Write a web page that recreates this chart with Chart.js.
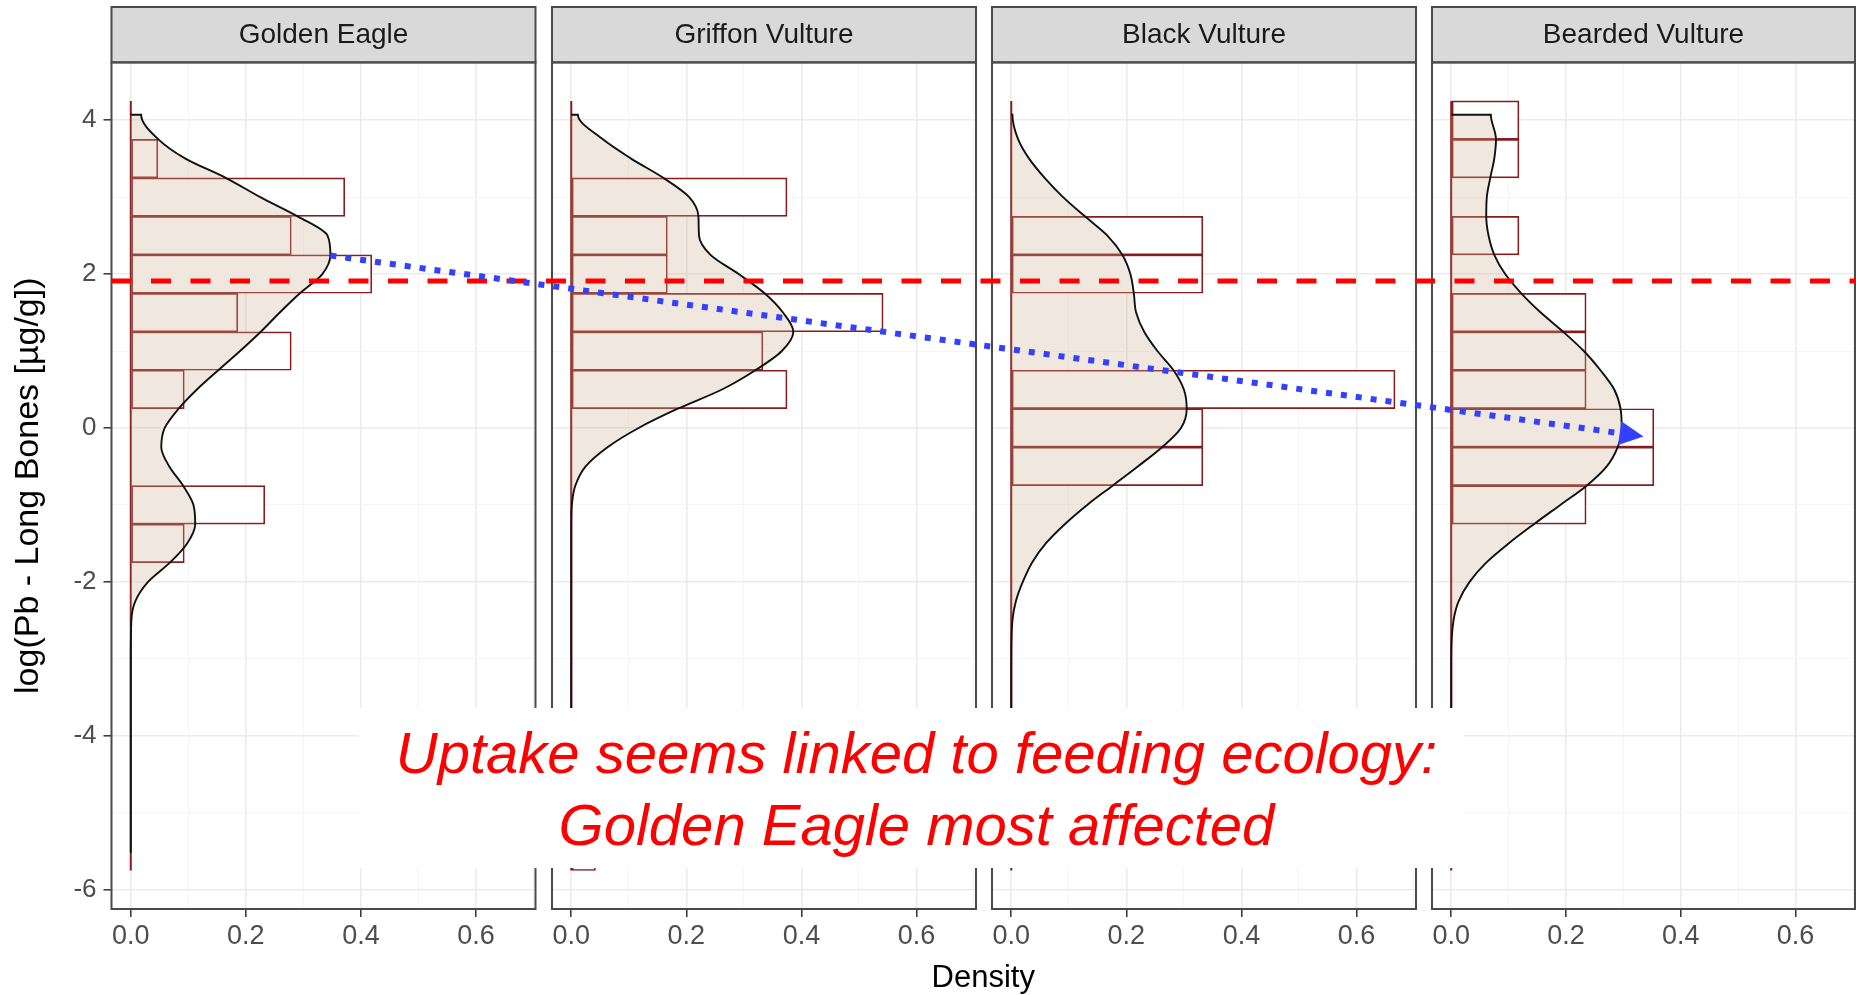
<!DOCTYPE html>
<html>
<head>
<meta charset="utf-8">
<title>Pb in long bones by species</title>
<script src="https://cdn.jsdelivr.net/npm/chart.js@4"></script>
<style>
  html, body { margin: 0; padding: 0; background: #fff; }
  #wrap { position: relative; width: 1856px; height: 995px; overflow: hidden; }
  #wrap canvas { position: absolute; left: 0; top: 0; }
  #note {
    position: absolute; left: 359px; top: 708px; width: 1105px; height: 160px;
    box-sizing: border-box; padding: 9px 0 0 10px; background: #fff;
    text-align: center; color: #ff0000; z-index: 5;
    font: italic 58px/72px 'Liberation Sans', Arial, sans-serif;
  }
</style>
</head>
<body>
<div id="wrap">
  <canvas id="p0" width="1856" height="995"></canvas>
  <canvas id="p1" width="1856" height="995"></canvas>
  <canvas id="p2" width="1856" height="995"></canvas>
  <canvas id="p3" width="1856" height="995"></canvas>
  <canvas id="overlay" width="1856" height="995"></canvas>
  <div id="note"></div>
</div>
<script>
// facets
const species = ['Golden Eagle', 'Griffon Vulture', 'Black Vulture', 'Bearded Vulture'];

// histogram bins (binwidth 0.5), centre of each bin
const binCenters = [4, 3.5, 3, 2.5, 2, 1.5, 1, 0.5, 0, -0.5, -1, -1.5, -2, -2.5, -3, -3.5, -4, -4.5, -5, -5.5];
const histGoldenEagle = [0, 0.047, 0.372, 0.279, 0.419, 0.186, 0.279, 0.093, 0, 0, 0.233, 0.093, 0, 0, 0, 0, 0, 0, 0, 0];
const histGriffon     = [0, 0, 0.375, 0.167, 0.167, 0.542, 0.333, 0.375, 0, 0, 0, 0, 0, 0, 0, 0, 0, 0, 0, 0.042];
const histBlack       = [0, 0, 0, 0.333, 0.333, 0, 0, 0.667, 0.333, 0.333, 0, 0, 0, 0, 0, 0, 0, 0, 0, 0];
const histBearded     = [0.118, 0.118, 0, 0.118, 0, 0.235, 0.235, 0.235, 0.353, 0.353, 0.235, 0, 0, 0, 0, 0, 0, 0, 0, 0];

// density curves, read at these log(Pb) values
const densityY = [4.07, 4.07, 3.75, 3.5, 3.25, 3, 2.75, 2.5, 2.25, 2, 1.75, 1.5, 1.25, 1, 0.75, 0.5, 0.25, 0,
                  -0.25, -0.5, -0.75, -1, -1.25, -1.5, -1.75, -2, -2.25, -2.5, -3, -4, -5, -5.52];
const densGoldenEagle = [0, 0.018, 0.048, 0.095, 0.165, 0.225, 0.29, 0.342, 0.347, 0.333, 0.294, 0.259, 0.226, 0.19, 0.152, 0.115, 0.083, 0.059,
                         0.053, 0.067, 0.091, 0.109, 0.112, 0.098, 0.068, 0.03, 0.008, 0.001, 0, 0, 0, 0];
const densGriffon     = [0, 0.0115, 0.055, 0.104, 0.16, 0.205, 0.221, 0.222, 0.242, 0.291, 0.336, 0.368, 0.386, 0.366, 0.32, 0.262, 0.185, 0.117,
                         0.063, 0.025, 0.007, 0.001, 0, 0, 0, 0, 0, 0, 0, 0, 0.003, 0.02];
const densBlack       = [0, 0.002, 0.012, 0.031, 0.058, 0.09, 0.128, 0.167, 0.193, 0.207, 0.213, 0.217, 0.231, 0.254, 0.282, 0.3, 0.305, 0.295,
                         0.262, 0.22, 0.176, 0.132, 0.093, 0.06, 0.036, 0.02, 0.008, 0.002, 0, 0, 0, 0];
const densBearded     = [0, 0.069, 0.078, 0.075, 0.068, 0.062, 0.061, 0.065, 0.075, 0.094, 0.122, 0.156, 0.195, 0.231, 0.26, 0.284, 0.295, 0.297,
                         0.29, 0.271, 0.236, 0.19, 0.144, 0.1, 0.061, 0.032, 0.013, 0.004, 0, 0, 0, 0];

const histograms = [histGoldenEagle, histGriffon, histBlack, histBearded];
const densities = [densGoldenEagle, densGriffon, densBlack, densBearded];

// axis ticks (majors get labels, the rest are minor grid lines)
const xTicks = [0, 0.1, 0.2, 0.3, 0.4, 0.5, 0.6, 0.7];
const xLabels = ['0.0', '', '0.2', '', '0.4', '', '0.6', ''];
const yTicks = [-6, -5, -4, -3, -2, -1, 0, 1, 2, 3, 4];
const yLabels = ['-6', '', '-4', '', '-2', '', '0', '', '2', '', '4'];

// reference line and arrow (data units)
const threshold = 1.91;
const arrowFrom = { panel: 0, x: 0.347, y: 2.24 };
const arrowTo = { panel: 3, x: 0.335, y: -0.11 };

const yTitle = 'log(Pb - Long Bones [µg/g])';
const xTitle = 'Density';
const noteLines = ['Uptake seems linked to feeding ecology:', 'Golden Eagle most affected'];

// layout
const W = 1856;
const panelLefts = [111.5, 552, 992, 1432];
const panelWidth = 424;
const plotTop = 62.4;
const xAxisHeight = 86;
const FONT = "'Liberation Sans', Arial, sans-serif";
Chart.defaults.font.family = FONT;

const barEdge = '#861C1C';
const binTop = Math.max(...binCenters) + 0.25;
const binBottom = Math.min(...binCenters) - 0.25;

const xMajor = v => xLabels[xTicks.findIndex(t => Math.abs(t - v) < 1e-9)] !== '';
const yMajor = v => yLabels[yTicks.indexOf(v)] !== '';

// grey strip with facet name + panel frame
const stripPlugin = {
  id: 'strip',
  afterDraw(chart, args, opts) {
    const { ctx, chartArea: a } = chart;
    const right = Math.min(a.right, W - 1);
    ctx.save();
    ctx.fillStyle = '#D9D9D9';
    ctx.fillRect(a.left, opts.top, right - a.left, a.top - opts.top);
    ctx.strokeStyle = '#4A4A4A';
    ctx.lineWidth = 2;
    ctx.strokeRect(a.left, opts.top, right - a.left, a.top - opts.top);
    ctx.strokeRect(a.left, a.top, right - a.left, a.bottom - a.top);
    ctx.fillStyle = '#1A1A1A';
    ctx.font = '28px ' + FONT;
    ctx.textAlign = 'center';
    ctx.textBaseline = 'middle';
    ctx.fillText(opts.label, (a.left + a.right) / 2, (opts.top + a.top) / 2 + 1);
    ctx.restore();
  }
};

function makePanel(i) {
  const first = i === 0;
  const hist = histograms[i];
  const dens = densities[i];
  return new Chart(document.getElementById('p' + i), {
    type: 'bar',
    data: {
      datasets: [
        {
          type: 'line',
          label: 'density',
          data: densityY.map((y, k) => ({ x: dens[k], y: y })),
          indexAxis: 'y',
          borderColor: '#111111',
          borderWidth: 1.9,
          backgroundColor: 'rgba(205,175,145,0.3)',
          fill: 'origin',
          pointRadius: 0,
          cubicInterpolationMode: 'monotone',
          order: 0
        },
        {
          type: 'line',
          label: 'empty bins',
          data: [{ x: 0, y: binTop }, { x: 0, y: binBottom }],
          indexAxis: 'y',
          borderColor: barEdge,
          borderWidth: 2,
          pointRadius: 0,
          fill: false,
          order: 1
        },
        {
          type: 'bar',
          label: 'histogram',
          data: binCenters.map((c, k) => ({ x: hist[k], y: c })),
          backgroundColor: '#FFFFFF',
          borderColor: barEdge,
          borderWidth: 1.7,
          borderSkipped: false,
          barPercentage: 1,
          categoryPercentage: 1,
          order: 2
        }
      ]
    },
    options: {
      indexAxis: 'y',
      responsive: false,
      animation: false,
      devicePixelRatio: 1,
      events: [],
      layout: {
        padding: {
          left: first ? 0 : panelLefts[i],
          right: W - panelLefts[i] - panelWidth,
          top: plotTop,
          bottom: 0
        }
      },
      plugins: {
        legend: { display: false },
        tooltip: { enabled: false },
        strip: { label: species[i], top: 7 }
      },
      scales: {
        x: {
          type: 'linear',
          min: -0.0335,
          max: 0.7035,
          afterBuildTicks: s => { s.ticks = xTicks.map(v => ({ value: v })); },
          afterFit: s => { s.height = xAxisHeight; },
          border: { display: false },
          grid: {
            color: c => xMajor(c.tick.value) ? '#EBEBEB' : '#F4F4F4',
            lineWidth: c => xMajor(c.tick.value) ? 1.6 : 0.9,
            tickLength: 8,
            tickWidth: 1.5,
            tickColor: c => xMajor(c.tick.value) ? '#333333' : 'rgba(0,0,0,0)'
          },
          ticks: {
            autoSkip: false,
            maxRotation: 0,
            color: '#4D4D4D',
            font: { size: 27 },
            padding: 3,
            callback: (v, k) => xLabels[k]
          }
        },
        y: {
          type: 'linear',
          min: -6.25,
          max: 4.75,
          offset: false,
          afterBuildTicks: s => { s.ticks = yTicks.map(v => ({ value: v })); },
          afterFit: s => { s.width = first ? panelLefts[0] : 0; },
          border: { display: false },
          title: {
            display: first,
            text: yTitle,
            color: '#000000',
            font: { size: 34 },
            padding: { top: 8, bottom: 0 }
          },
          grid: {
            offset: false,
            drawTicks: first,
            color: c => yMajor(c.tick.value) ? '#EBEBEB' : '#F4F4F4',
            lineWidth: c => yMajor(c.tick.value) ? 1.6 : 0.9,
            tickLength: 8,
            tickWidth: 1.5,
            tickColor: c => yMajor(c.tick.value) ? '#333333' : 'rgba(0,0,0,0)'
          },
          ticks: {
            display: first,
            autoSkip: false,
            color: '#4D4D4D',
            font: { size: 26 },
            padding: 7,
            callback: (v, k) => yLabels[k]
          }
        }
      }
    },
    plugins: [stripPlugin]
  });
}

const charts = species.map((s, i) => makePanel(i));

// overlay: threshold line, arrow, axis title
const ov = document.getElementById('overlay').getContext('2d');
const c0 = charts[0];
const cLast = charts[charts.length - 1];

const yT = c0.scales.y.getPixelForValue(threshold);
ov.save();
ov.strokeStyle = '#FF0000';
ov.lineWidth = 5;
ov.setLineDash([20, 19.5]);
ov.beginPath();
ov.moveTo(c0.chartArea.left, yT);
ov.lineTo(cLast.chartArea.right, yT);
ov.stroke();
ov.restore();

function pix(p) {
  const c = charts[p.panel];
  return { x: c.scales.x.getPixelForValue(p.x), y: c.scales.y.getPixelForValue(p.y) };
}
const a0 = pix(arrowFrom), a1 = pix(arrowTo);
const ang = Math.atan2(a1.y - a0.y, a1.x - a0.x);
const headLen = 24, headHalf = 12;
const bx = a1.x - headLen * Math.cos(ang), by = a1.y - headLen * Math.sin(ang);
ov.save();
ov.strokeStyle = '#3340FF';
ov.fillStyle = '#3340FF';
ov.lineWidth = 6;
ov.setLineDash([6, 9]);
ov.beginPath();
ov.moveTo(a0.x, a0.y);
ov.lineTo(bx, by);
ov.stroke();
ov.setLineDash([]);
ov.beginPath();
ov.moveTo(a1.x, a1.y);
ov.lineTo(bx - headHalf * Math.sin(ang), by + headHalf * Math.cos(ang));
ov.lineTo(bx + headHalf * Math.sin(ang), by - headHalf * Math.cos(ang));
ov.closePath();
ov.fill();
ov.restore();

ov.save();
ov.fillStyle = '#000000';
ov.font = '31px ' + FONT;
ov.textAlign = 'center';
ov.textBaseline = 'alphabetic';
ov.fillText(xTitle, (c0.chartArea.left + cLast.chartArea.right) / 2, 987);
ov.restore();

// annotation box
document.getElementById('note').innerHTML = noteLines.join('<br>');
</script>
</body>
</html>
